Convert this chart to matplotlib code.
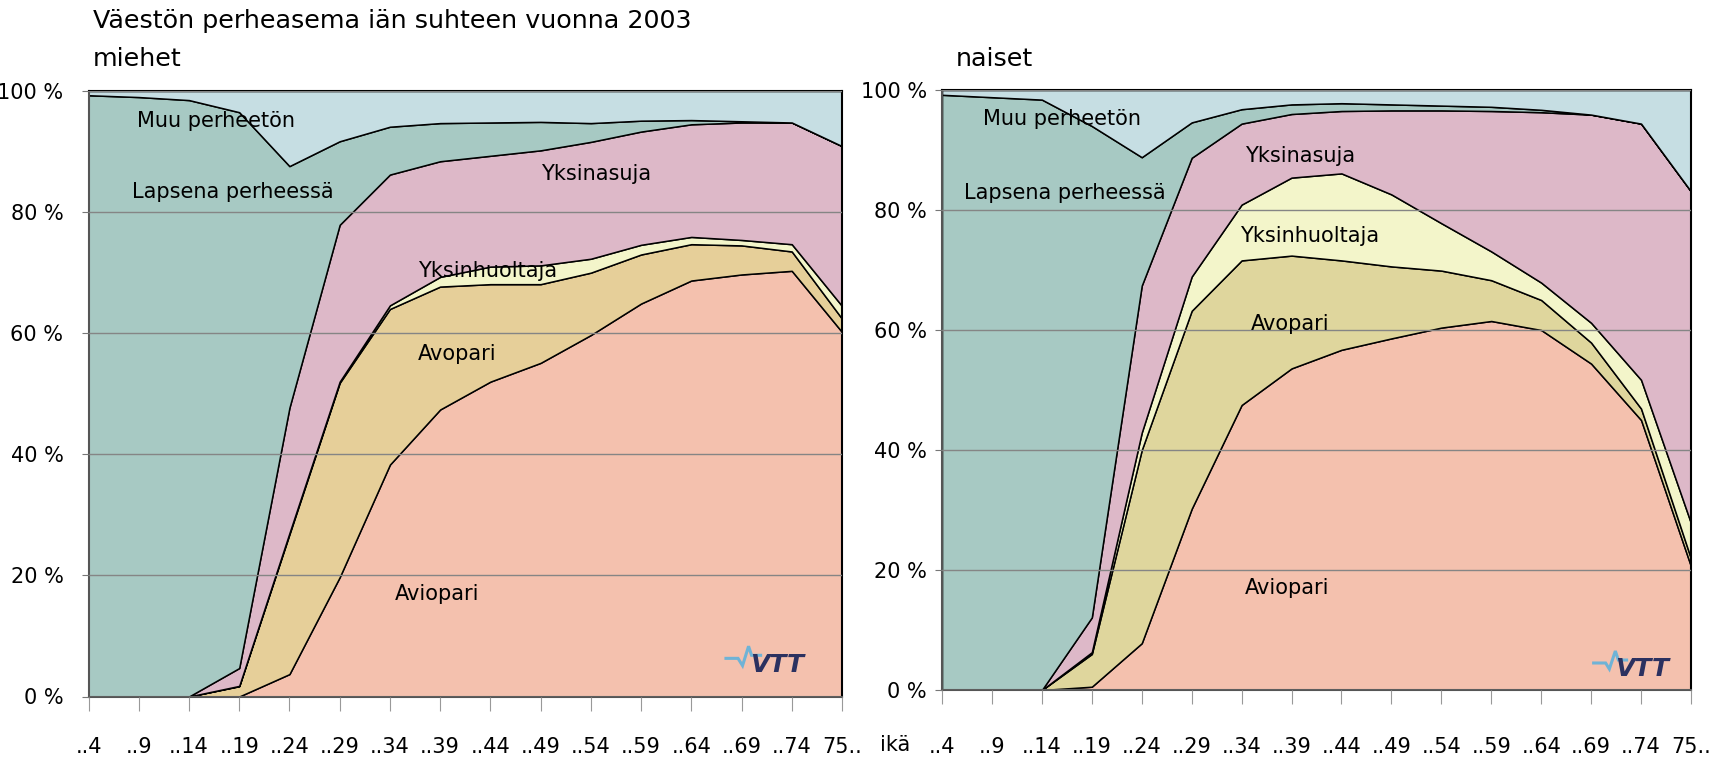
import numpy as np
import matplotlib
matplotlib.use("Agg")
import matplotlib.pyplot as plt

plt.rcParams['font.family'] = ['DejaVu Sans']

# ── DATA ──────────────────────────────────────────────────────────────────────
AGES = ["..4", "..9", "..14", "..19", "..24", "..29", "..34", "..39",
        "..44", "..49", "..54", "..59", "..64", "..69", "..74", "75.."]
SERIES = ["Aviopari", "Avopari", "Yksinhuoltaja", "Yksinasuja",
          "Lapsena perheessä", "Muu perheetön"]

# miehet, % of age group
m_aviopari   = [0, 0, 0, 0.0, 3.7, 19.7, 38.3, 47.4, 52.0, 55.1, 59.7, 64.9, 68.7, 69.7, 70.3, 60.2]
m_avopari    = [0, 0, 0, 1.7, 23.1, 32.1, 25.7, 20.3, 16.1, 13.0, 10.3, 8.1, 6.0, 4.8, 3.2, 2.2]
m_yksinhuolt = [0, 0, 0, 0.05, 0.2, 0.2, 0.6, 1.6, 2.9, 3.1, 2.3, 1.6, 1.2, 0.9, 1.2, 2.1]
m_yksinasuja = [0, 0, 0, 2.95, 20.7, 25.9, 21.6, 19.1, 18.3, 19.0, 19.3, 18.7, 18.6, 19.4, 20.1, 26.4]
m_lapsena    = [99.3, 99.0, 98.5, 91.8, 39.9, 13.8, 7.9, 6.3, 5.5, 4.7, 3.1, 1.8, 0.7, 0.2, 0.0, 0.0]
m_muu        = [0.7, 1.0, 1.5, 3.5, 12.4, 8.3, 5.9, 5.3, 5.2, 5.1, 5.3, 4.9, 4.8, 5.0, 5.2, 9.1]

# naiset
n_aviopari   = [0, 0, 0, 0.55, 7.8, 30.2, 47.5, 53.6, 56.7, 58.6, 60.4, 61.5, 60.0, 54.4, 45.0, 20.6]
n_avopari    = [0, 0, 0, 5.45, 32.2, 33.0, 24.1, 18.8, 14.9, 12.0, 9.5, 6.8, 5.0, 3.5, 1.9, 1.3]
n_yksinhuolt = [0, 0, 0, 0.3, 2.9, 5.7, 9.3, 13.0, 14.5, 12.0, 7.9, 4.8, 2.9, 3.3, 4.8, 5.9]
n_yksinasuja = [0, 0, 0, 5.8, 24.5, 19.8, 13.5, 10.6, 10.4, 14.0, 18.8, 23.4, 28.4, 34.7, 42.7, 55.3]
n_lapsena    = [99.2, 98.8, 98.4, 81.9, 21.4, 5.9, 2.4, 1.6, 1.3, 1.0, 0.8, 0.7, 0.4, 0.0, 0.0, 0.0]
n_muu        = [0.8, 1.2, 1.6, 6.0, 11.2, 5.4, 3.2, 2.4, 2.2, 2.4, 2.6, 2.8, 3.3, 4.1, 5.6, 16.9]

COL_M = ["#f4c1ae", "#e6cf99", "#f3f5ca", "#ddb8c8", "#a7c9c3", "#c6dee3"]
COL_N = ["#f4c1ae", "#dfd69d", "#f3f5ca", "#ddb8c8", "#a7c9c3", "#c6dee3"]

FS = 15
W, H = 1723, 759

def px_axes(l, r, b, t):
    return [l / W, 1 - b / H, (r - l) / W, (b - t) / H]

def norm(rows):
    a = np.array(rows, dtype=float)
    return a / a.sum(axis=0) * 100

def draw(ax, rows, colors, labels_pos, ypad, xpad, logo):
    x = np.arange(len(AGES))
    ax.stackplot(x, norm(rows), colors=colors, edgecolor="black", linewidth=1.1, zorder=1)
    ax.set_xlim(0, len(AGES) - 1)
    ax.set_ylim(0, 100)
    ax.set_axisbelow(False)
    ax.yaxis.grid(True, color="#858585", linewidth=1.0, zorder=1.5)
    ax.set_yticks(range(0, 101, 20))
    ax.set_yticklabels([f"{v} %" for v in range(0, 101, 20)], fontsize=FS)
    ax.set_xticks(x)
    ax.set_xticklabels(AGES, fontsize=FS)
    ax.tick_params(axis="x", length=10, color="#999999", pad=xpad)
    ax.tick_params(axis="y", length=5, color="#777777", pad=ypad)
    for s in ["top", "right"]:
        ax.spines[s].set_color("black"); ax.spines[s].set_linewidth(1.5)
    for s in ["left", "bottom"]:
        ax.spines[s].set_color("#555555"); ax.spines[s].set_linewidth(1.5)
    for name, (lx, ly) in zip(SERIES, labels_pos):
        ax.text(lx, ly, name, fontsize=FS, va="center", ha="left", zorder=5)
    # VTT logo
    px, py, tx, ty = logo
    ax.plot(px, py, color="#6fb3d6", lw=2.2, transform=ax.transAxes, zorder=5,
            solid_joinstyle="miter")
    ax.text(tx, ty, "VTT", transform=ax.transAxes, fontsize=18, fontweight="bold",
            style="italic", color="#2b3160", ha="left", va="bottom", zorder=5)

fig = plt.figure(figsize=(W / 100, H / 100), dpi=100)
ax1 = fig.add_axes(px_axes(88.5, 842, 696.5, 91))
ax2 = fig.add_axes(px_axes(942, 1691, 690, 90))

lab_m = [(6.1, 17), (6.55, 56.5), (6.55, 70.2), (9.0, 86.3), (0.86, 83.3), (0.96, 95.0)]
lab_n = [(6.07, 17), (6.18, 61), (5.96, 75.7), (6.07, 89), (0.44, 82.8), (0.83, 95.2)]

logo_m = ([0.846, 0.862, 0.868, 0.876, 0.880, 0.892],
          [0.063, 0.063, 0.051, 0.083, 0.068, 0.068], 0.878, 0.033)
logo_n = ([0.870, 0.886, 0.891, 0.899, 0.903, 0.914],
          [0.045, 0.045, 0.035, 0.065, 0.050, 0.050], 0.899, 0.015)

draw(ax1, [m_aviopari, m_avopari, m_yksinhuolt, m_yksinasuja, m_lapsena, m_muu],
     COL_M, lab_m, 13, 19, logo_m)
draw(ax2, [n_aviopari, n_avopari, n_yksinhuolt, n_yksinasuja, n_lapsena, n_muu],
     COL_N, lab_n, 6, 24, logo_n)

fig.text(93 / W, 1 - 28 / H, "Väestön perheasema iän suhteen vuonna 2003",
         fontsize=18.3, va="baseline", ha="left")
fig.text(93 / W, 1 - 66 / H, "miehet", fontsize=18.3, va="baseline", ha="left")
fig.text(956 / W, 1 - 66 / H, "naiset", fontsize=18.3, va="baseline", ha="left")
fig.text(895 / W, 1 - 745 / H, "ikä", fontsize=FS, va="center", ha="center")

fig.savefig("out.png", dpi=100)
